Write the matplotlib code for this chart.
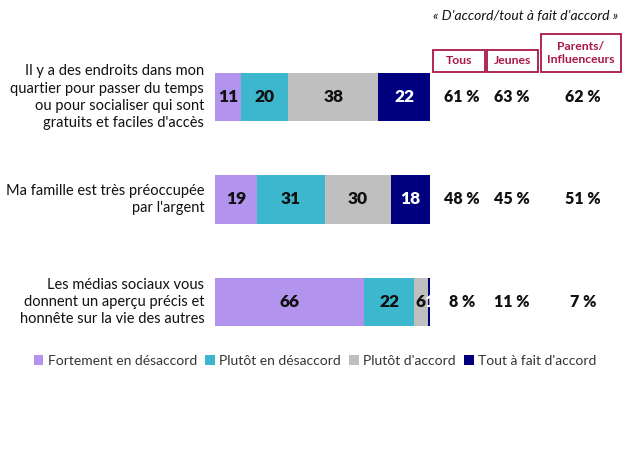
import matplotlib.pyplot as plt
from matplotlib.patches import Rectangle
import matplotlib.transforms as mtransforms

plt.rcParams['font.family'] = ['Lato', 'DejaVu Sans']

# ================= données =================
questions = [
    "Il y a des endroits dans mon\nquartier pour passer du temps\nou pour socialiser qui sont\ngratuits et faciles d'accès",
    "Ma famille est très préoccupée\npar l'argent",
    "Les médias sociaux vous\ndonnent un aperçu précis et\nhonnête sur la vie des autres",
]
series_names = ["Fortement en désaccord", "Plutôt en désaccord",
                "Plutôt d'accord", "Tout à fait d'accord"]
fortement_desaccord = [11, 19, 66]
plutot_desaccord = [20, 31, 22]
plutot_accord = [38, 30, 6]
tout_accord = [22, 18, 1]
groups = ["Tous", "Jeunes", "Parents/\nInfluenceurs"]
tous = [61, 48, 8]
jeunes = [63, 45, 11]
parents = [62, 51, 7]
# ==========================================

colors = ['#B293EE', '#3DB7CE', '#BFBFBF', '#00007F']
label_colors = ['#111111', '#111111', '#111111', 'white']
red = '#A8174A'

fig = plt.figure(figsize=(6.24, 4.68), dpi=100)
ax = fig.add_axes([215 / 624, 1 - 353 / 468, 215 / 624, 307 / 468])

series = [fortement_desaccord, plutot_desaccord, plutot_accord, tout_accord]
for i in range(len(questions)):
    total = sum(s[i] for s in series)
    left = 0
    for k, s in enumerate(series):
        w = s[i] / total
        ax.barh(i, w, left=left, height=0.47, color=colors[k],
                label=series_names[k] if i == 0 else None)
        ax.text(left + w / 2, i, str(s[i]), ha='center', va='center',
                fontsize=12.5, fontweight='heavy', color=label_colors[k])
        left += w

ax.set_xlim(0, 1)
ax.set_ylim(2.5, -0.5)
ax.axis('off')

# libellés des questions
for i, q in enumerate(questions):
    ax.text(-0.05, i, q, ha='right', va='center', fontsize=10.5,
            color='#111111', linespacing=1.3)

# colonnes de droite
trans = mtransforms.blended_transform_factory(fig.transFigure, ax.transData)
col_x = [462 / 624, 512 / 624, 583 / 624]
for cx, vals in zip(col_x, [tous, jeunes, parents]):
    for i, v in enumerate(vals):
        ax.text(cx, i, f"{v} %", transform=trans, ha='center', va='center',
                fontsize=11.5, fontweight='heavy', color='#111111')

# en-têtes encadrés
boxes = [(433, 50, 485, 72), (487, 50, 538, 72), (541, 34, 621, 72)]
for (x0, y0, x1, y1), g in zip(boxes, groups):
    fig.patches.append(Rectangle((x0 / 624, 1 - y1 / 468), (x1 - x0) / 624,
                                 (y1 - y0) / 468, transform=fig.transFigure,
                                 fill=False, edgecolor=red, linewidth=1.3))
    fig.text((x0 + x1) / 2 / 624, 1 - (y0 + y1) / 2 / 468, g, ha='center',
             va='center', fontsize=8.8, fontweight='bold', color=red,
             linespacing=1.2)

fig.text(526 / 624, 1 - 16 / 468, "« D’accord/tout à fait d’accord »",
         ha='center', va='center', fontsize=10, style='italic', color='#111111')

fig.legend(loc='center', bbox_to_anchor=(315 / 624, 1 - 361 / 468), ncol=4,
           frameon=False, fontsize=10, handlelength=0.7, handleheight=0.7,
           handletextpad=0.3, columnspacing=0.6, labelcolor='#333333')

fig.savefig('out.png', dpi=100)
